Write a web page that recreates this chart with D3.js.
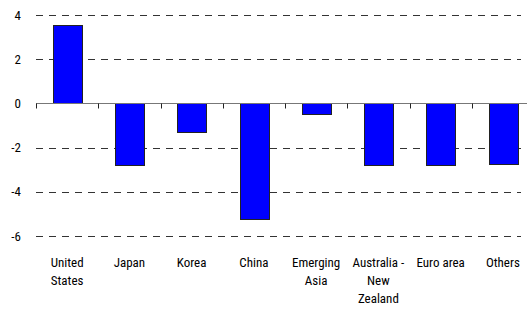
<!DOCTYPE html>
<html>
<head>
<meta charset="utf-8">
<script src="https://cdn.jsdelivr.net/npm/d3@7"></script>
<style>
  body { margin: 0; background: #fff; }
  svg text { font-family: "Liberation Sans Narrow", "Arial Narrow", "Roboto Condensed", "Liberation Sans", sans-serif; fill: #000; }
</style>
</head>
<body>
<svg id="chart" width="527" height="312"></svg>
<script>
// //////// DATA
const categories = [
  ["United", "States"],
  ["Japan"],
  ["Korea"],
  ["China"],
  ["Emerging", "Asia"],
  ["Australia -", "New", "Zealand"],
  ["Euro area"],
  ["Others"],
];
const values = [3.55, -2.8, -1.3, -5.25, -0.5, -2.8, -2.8, -2.75];
const yTicks = [4, 2, 0, -2, -4, -6];

// //////// CHART
const svg = d3.select("#chart");

const x = d3
  .scaleBand()
  .domain(d3.range(categories.length))
  .range([36, 534])
  .paddingInner(0.54)
  .paddingOuter(0.27);

const y = d3.scaleLinear().domain([-6, 4]).range([236, 15]);

// dashed gridlines
svg
  .append("g")
  .selectAll("line")
  .data(yTicks.filter((d) => d !== 0))
  .join("line")
  .attr("x1", 36)
  .attr("x2", 521)
  .attr("y1", (d) => Math.round(y(d)) + 0.5)
  .attr("y2", (d) => Math.round(y(d)) + 0.5)
  .attr("stroke", "#333")
  .attr("stroke-width", 1)
  .attr("stroke-dasharray", "7,6");

// y labels
svg
  .append("g")
  .attr("text-anchor", "end")
  .attr("font-size", 13)
  .selectAll("text")
  .data(yTicks)
  .join("text")
  .attr("x", 21)
  .attr("y", (d) => y(d))
  .attr("dy", "0.35em")
  .text((d) => d);

// bars
svg
  .append("g")
  .selectAll("rect")
  .data(values)
  .join("rect")
  .attr("x", (d, i) => Math.round(x(i)) + 0.5)
  .attr("width", Math.round(x.bandwidth()))
  .attr("y", (d) => Math.round(y(Math.max(0, d))) + 0.5)
  .attr("height", (d) => Math.round(Math.abs(y(d) - y(0))))
  .attr("fill", "#0000ff")
  .attr("stroke", "#222")
  .attr("stroke-width", 1);

// zero axis with category ticks
const step = x.step();
const y0 = Math.round(y(0)) + 0.5;
svg
  .append("line")
  .attr("x1", 36)
  .attr("x2", 534)
  .attr("y1", y0)
  .attr("y2", y0)
  .attr("stroke", "#777")
  .attr("stroke-width", 1.2);

svg
  .append("g")
  .selectAll("line")
  .data(d3.range(categories.length + 1))
  .join("line")
  .attr("x1", (i) => Math.round(36 + i * step) + 0.5)
  .attr("x2", (i) => Math.round(36 + i * step) + 0.5)
  .attr("y1", y0)
  .attr("y2", y0 + 5)
  .attr("stroke", "#222");

// category labels
const labels = svg
  .append("g")
  .attr("text-anchor", "middle")
  .attr("font-size", 13)
  .selectAll("text")
  .data(categories)
  .join("text")
  .attr("x", (d, i) => x(i) + x.bandwidth() / 2)
  .attr("y", 267);

labels
  .selectAll("tspan")
  .data((d) => d)
  .join("tspan")
  .attr("x", function () {
    return d3.select(this.parentNode).attr("x");
  })
  .attr("dy", (d, i) => (i === 0 ? 0 : 18))
  .text((d) => d);
</script>
</body>
</html>
